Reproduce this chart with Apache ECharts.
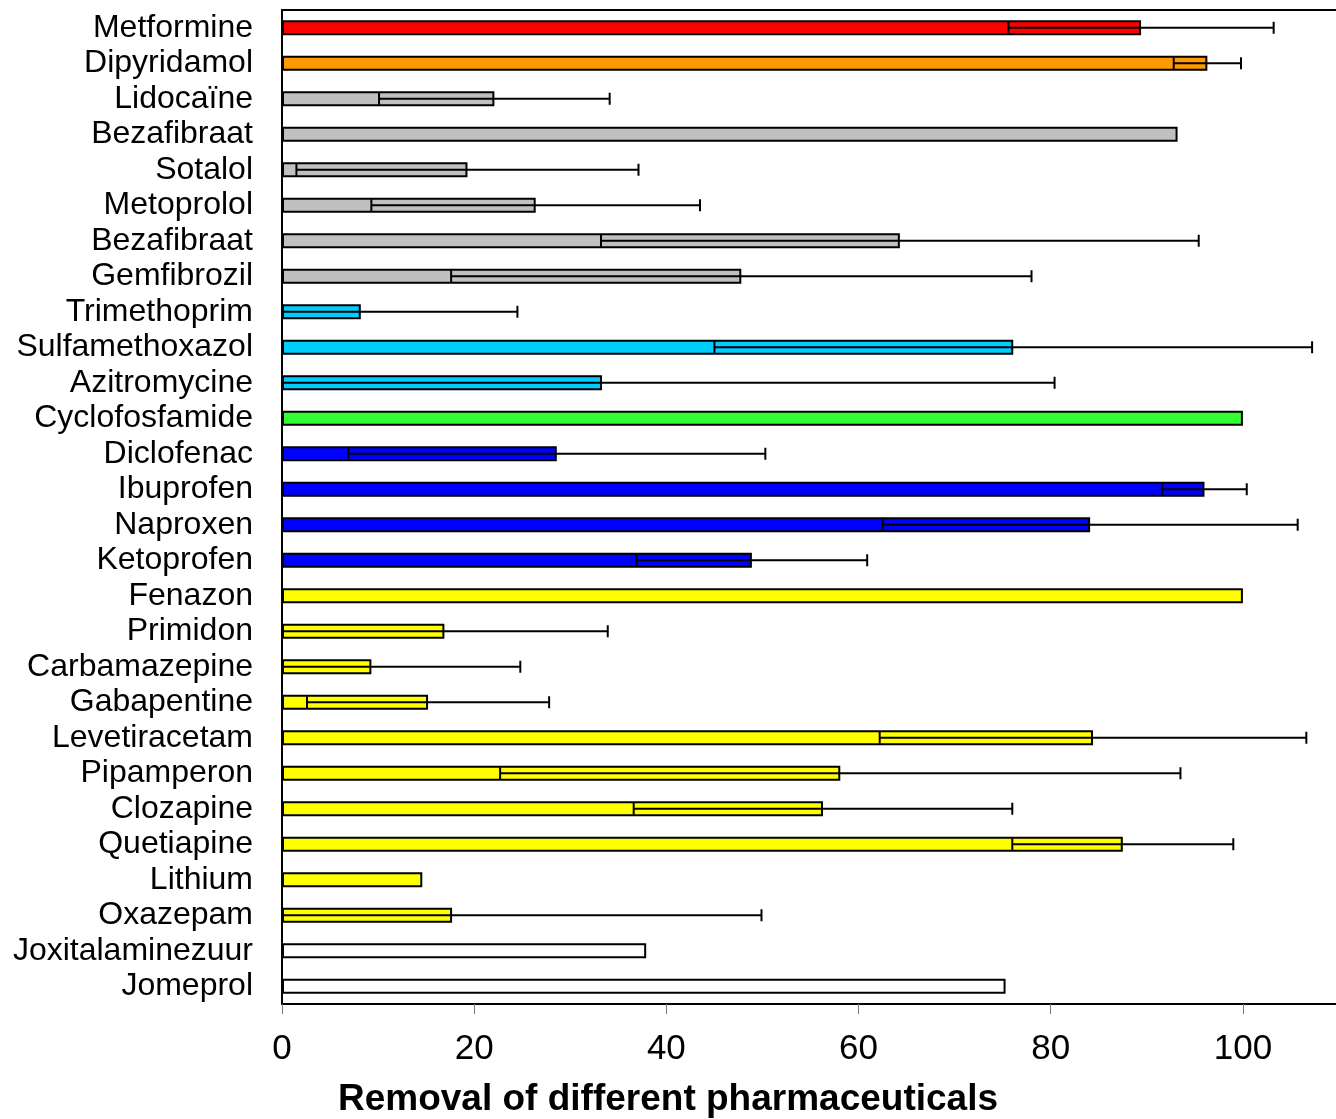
<!DOCTYPE html>
<html>
<head>
<meta charset="utf-8">
<script src="https://cdn.jsdelivr.net/npm/echarts@6/dist/echarts.min.js"></script>
<style>
html, body { margin: 0; padding: 0; background: #fff; }
#chart { width: 1336px; height: 1119px; }
</style>
</head>
<body>
<div id="chart"></div>
<script>
// categories, top to bottom
var categories = ['Metformine', 'Dipyridamol', 'Lidocaïne', 'Bezafibraat', 'Sotalol', 'Metoprolol',
    'Bezafibraat', 'Gemfibrozil', 'Trimethoprim', 'Sulfamethoxazol', 'Azitromycine', 'Cyclofosfamide',
    'Diclofenac', 'Ibuprofen', 'Naproxen', 'Ketoprofen', 'Fenazon', 'Primidon', 'Carbamazepine',
    'Gabapentine', 'Levetiracetam', 'Pipamperon', 'Clozapine', 'Quetiapine', 'Lithium', 'Oxazepam',
    'Joxitalaminezuur', 'Jomeprol'];
// mean removal (%)
var removal = [89.4, 96.3, 22.1, 93.2, 19.3, 26.4,
    64.3, 47.8, 8.2, 76.1, 33.3, 100,
    28.6, 96.0, 84.1, 48.9, 100, 16.9, 9.3,
    15.2, 84.4, 58.1, 56.3, 87.5, 14.6, 17.7,
    37.9, 75.3];
// standard deviation (null = no error bar)
var deviation = [13.8, 3.5, 12.0, null, 17.8, 17.1,
    31.1, 30.2, 16.3, 31.1, 47.1, null,
    21.7, 4.4, 21.6, 12.0, null, 17.0, 15.5,
    12.6, 22.2, 35.4, 19.7, 11.5, null, 32.2,
    null, null];
var xTicks = [0, 20, 40, 60, 80, 100];

var barColors = ['#ff0000', '#ff9900', '#c0c0c0', '#c0c0c0', '#c0c0c0', '#c0c0c0',
    '#c0c0c0', '#c0c0c0', '#00ccff', '#00ccff', '#00ccff', '#33ff33',
    '#0000ff', '#0000ff', '#0000ff', '#0000ff', '#ffff00', '#ffff00', '#ffff00',
    '#ffff00', '#ffff00', '#ffff00', '#ffff00', '#ffff00', '#ffff00', '#ffff00',
    '#ffffff', '#ffffff'];

var barData = removal.map(function (v, i) {
    return { value: v, itemStyle: { color: barColors[i] } };
});

var errData = [];
removal.forEach(function (v, i) {
    if (deviation[i] != null) {
        errData.push([v - deviation[i], v + deviation[i], i]);
    }
});

var chart = echarts.init(document.getElementById('chart'));
var font = '"Liberation Sans", Arial, Helvetica, sans-serif';

var option = {
    animation: false,
    title: {
        text: 'Removal of different pharmaceuticals',
        left: 'center',
        top: 1076,
        textStyle: { fontFamily: font, fontSize: 37, fontWeight: 'bold', color: '#000' }
    },
    grid: { left: 282, top: 10, width: 1057, height: 994, outerBoundsMode: 'none', containLabel: false },
    xAxis: [{
        type: 'value',
        min: 0,
        max: 110,
        interval: 20,
        position: 'bottom',
        splitLine: { show: false },
        axisLine: { show: true, lineStyle: { color: '#000', width: 2 } },
        axisTick: { show: true, length: 10, lineStyle: { color: '#777', width: 1 } },
        axisLabel: {
            fontFamily: font, fontSize: 35, color: '#000', margin: 28,
            formatter: function (v) { return xTicks.indexOf(v) >= 0 ? String(v) : ''; }
        }
    }, {
        type: 'value',
        min: 0,
        max: 110,
        position: 'top',
        splitLine: { show: false },
        axisLine: { show: true, lineStyle: { color: '#000', width: 2 } },
        axisTick: { show: false },
        axisLabel: { show: false }
    }],
    yAxis: {
        type: 'category',
        data: categories,
        inverse: true,
        axisLine: { show: true, lineStyle: { color: '#000', width: 2 } },
        axisTick: { show: false },
        axisLabel: { fontFamily: font, fontSize: 32, color: '#000', margin: 29, interval: 0 }
    },
    series: [{
        type: 'bar',
        data: barData,
        barWidth: 15,
        itemStyle: { borderColor: '#000', borderWidth: 2 },
        z: 2
    }, {
        type: 'custom',
        data: errData,
        encode: { x: [0, 1], y: 2 },
        z: 3,
        renderItem: function (params, api) {
            var lowVal = api.value(0), highVal = api.value(1), idx = api.value(2);
            var clipped = lowVal < 0;
            var low = api.coord([Math.max(lowVal, 0), idx]);
            var high = api.coord([highVal, idx]);
            var y = low[1], h = 6;
            var style = { stroke: '#000', lineWidth: 2, fill: null };
            var children = [
                { type: 'line', shape: { x1: low[0], y1: y, x2: high[0], y2: y }, style: style },
                { type: 'line', shape: { x1: high[0], y1: y - h, x2: high[0], y2: y + h }, style: style }
            ];
            if (!clipped) {
                children.push({ type: 'line', shape: { x1: low[0], y1: y - h, x2: low[0], y2: y + h }, style: style });
            }
            return { type: 'group', children: children };
        }
    }]
};

chart.setOption(option);
</script>
</body>
</html>
